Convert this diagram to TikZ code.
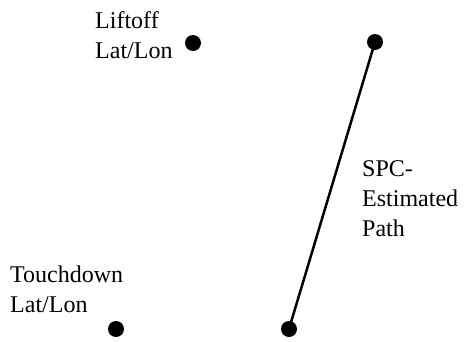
\documentclass[tikz,border=0pt]{standalone}
\usepackage{fontspec}
\setmainfont{Liberation Serif}
\begin{document}
\begin{tikzpicture}[x=1pt,y=-1pt,
  lbl/.style={inner sep=0pt,anchor=base west,align=left,font=\fontsize{24}{30}\selectfont},
  dot/.style={circle,fill=black,inner sep=0pt,minimum size=16pt}]
\useasboundingbox (0,0) rectangle (464,341);
\node[lbl] (liftofftxt) at (95,58) {Liftoff\\Lat/Lon};
\node[lbl] (spctxt) at (362,236) {SPC-\\Estimated\\Path};
\node[lbl] (touchtxt) at (10,312) {Touchdown\\Lat/Lon};
\node[dot] (liftoff) at (193,43) {};
\node[dot] (touch) at (116,329) {};
\node[dot] (ptop) at (375,42) {};
\node[dot] (pbot) at (289,329) {};
\draw[line width=2.5pt] (ptop.center) -- (pbot.center);
\end{tikzpicture}
\end{document}
